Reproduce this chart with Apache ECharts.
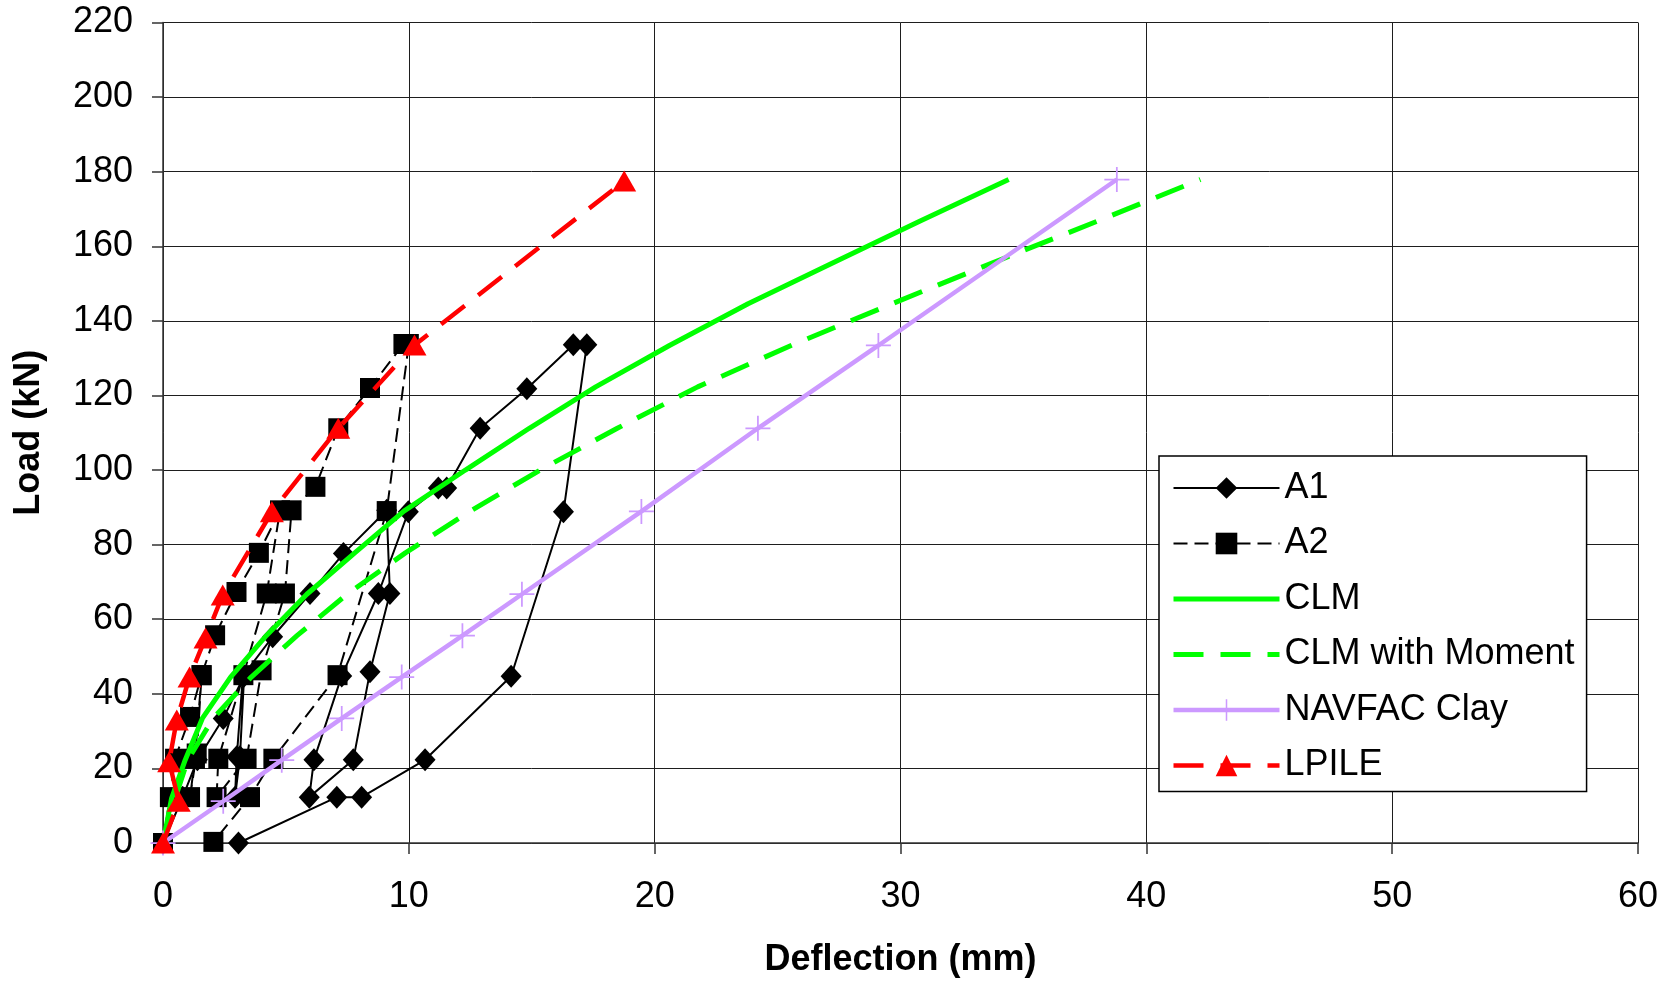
<!DOCTYPE html>
<html>
<head>
<meta charset="utf-8">
<script src="https://cdn.jsdelivr.net/npm/echarts@6/dist/echarts.min.js"></script>
<style>
html,body{margin:0;padding:0;background:#fff;}
#chart{width:1679px;height:982px;}
</style>
</head>
<body>
<div id="chart"></div>
<script>
// ---- data (deflection in mm, load in kN) ----
const xTicks = [0, 10, 20, 30, 40, 50, 60];
const yTicks = [0, 20, 40, 60, 80, 100, 120, 140, 160, 180, 200, 220];

const a1Defl = [0, 0.8, 1.4, 2.45, 3.3, 3.13, 2.93, 3.0, 3.25, 4.46, 5.98, 7.34, 9.1, 9.23, 8.42, 7.74, 5.95, 6.14, 7.27, 8.76, 9.98, 11.2, 11.54, 12.9, 14.8, 16.69, 17.24, 16.29, 14.16, 10.66, 8.08, 7.07, 3.07];
const a1Load = [0, 12.3, 22.3, 33.4, 44.8, 23.1, 12.3, 23.1, 44.8, 55.3, 66.9, 77.6, 89.2, 66.9, 45.9, 22.3, 12.3, 22.3, 44.8, 66.9, 88.8, 95.2, 95.2, 111.2, 121.8, 133.6, 133.6, 88.8, 44.7, 22.3, 12.3, 12.3, 0];

const a2Defl = [0, 0.28, 0.49, 1.1, 1.57, 1.3, 1.1, 1.37, 1.57, 2.12, 2.99, 3.9, 4.76, 4.22, 3.27, 2.25, 2.18, 3.4, 4.01, 4.96, 5.23, 6.2, 7.13, 8.42, 9.78, 10.0, 9.1, 7.1, 4.49, 3.54, 2.05];
const a2Load = [0, 12.3, 22.6, 33.8, 45, 22.6, 12.3, 24, 45, 55.7, 67.3, 77.8, 89.2, 66.9, 45, 22.6, 12.3, 22.6, 46.3, 66.9, 89.2, 95.5, 111.2, 122, 133.8, 133.8, 89, 45, 22.6, 12.3, 0.3];

const clmDefl = [0, 0.35, 0.9, 1.6, 2.75, 4.2, 5.85, 7.8, 9.8, 12.3, 14.9, 17.6, 20.6, 23.8, 27.3, 30.8, 34.4];
const clmLoad = [0, 12, 22.2, 33.4, 44.5, 55.6, 66.7, 77.8, 89, 100, 111.2, 122.3, 133.4, 144.6, 155.7, 166.8, 177.9];

const clmmDefl = [0, 0.45, 1.0, 2.04, 3.59, 5.45, 7.49, 9.86, 12.5, 15.34, 18.48, 21.75, 25.55, 29.66, 33.8, 38.03, 42.2];
const clmmLoad = [0, 11.1, 22.2, 33.4, 44.5, 55.6, 66.7, 77.8, 89, 100, 111.2, 122.3, 133.4, 144.6, 155.7, 166.8, 177.9];

const navDefl = [0, 2.45, 4.83, 7.27, 9.71, 12.18, 14.6, 19.46, 24.2, 29.1, 38.8];
const navLoad = [0, 11.2, 22.2, 33.4, 44.5, 55.6, 66.7, 88.9, 111.2, 133.4, 177.9];

const lpDefl = [0, 0.64, 0.25, 0.56, 1.08, 1.73, 2.43, 4.43, 7.13, 10.23, 18.76];
const lpLoad = [0, 11.2, 21.8, 33.0, 44.5, 55.0, 66.5, 88.8, 111.2, 133.5, 177.5];

const seriesNames = ['A1', 'A2', 'CLM', 'CLM with Moment', 'NAVFAC Clay', 'LPILE'];

// ---- helpers ----
function pairs(xs, ys) { return xs.map((x, i) => [x, ys[i]]); }
const FONT = "'Liberation Sans', Arial, sans-serif";
const PLUS = 'path://M-0.07,-1 L0.07,-1 L0.07,-0.07 L1,-0.07 L1,0.07 L0.07,0.07 L0.07,1 L-0.07,1 L-0.07,0.07 L-1,0.07 L-1,-0.07 L-0.07,-0.07 Z';
const GRID = '#1e1e1e';

const chart = echarts.init(document.getElementById('chart'), null, {renderer: 'canvas'});
chart.setOption({
  animation: false,
  backgroundColor: '#fff',
  grid: {left: 163, right: 41, top: 22.5, bottom: 139, containLabel: false, outerBoundsMode: 'none'},
  xAxis: {
    type: 'value', min: xTicks[0], max: xTicks[xTicks.length - 1], interval: 10,
    name: 'Deflection (mm)', nameLocation: 'middle', nameGap: 99,
    nameTextStyle: {fontFamily: FONT, fontSize: 36, fontWeight: 'bold', color: '#000'},
    axisLine: {show: true, onZero: false, lineStyle: {color: '#333', width: 1.5}},
    axisTick: {show: true, inside: false, length: 11, lineStyle: {color: '#333', width: 1.5}},
    axisLabel: {fontFamily: FONT, fontSize: 36, color: '#000', margin: 36},
    splitLine: {show: true, lineStyle: {color: GRID, width: 1}}
  },
  yAxis: {
    type: 'value', min: yTicks[0], max: yTicks[yTicks.length - 1], interval: 20,
    name: 'Load (kN)', nameLocation: 'middle', nameGap: 116, nameRotate: 90,
    nameTextStyle: {fontFamily: FONT, fontSize: 36, fontWeight: 'bold', color: '#000'},
    axisLine: {show: true, onZero: false, lineStyle: {color: '#333', width: 1.5}},
    axisTick: {show: true, inside: false, length: 11, lineStyle: {color: '#333', width: 1.5}},
    axisLabel: {fontFamily: FONT, fontSize: 36, color: '#000', margin: 30},
    splitLine: {show: true, lineStyle: {color: GRID, width: 1}}
  },
  legend: {
    show: true, orient: 'vertical', left: 1159, top: 456,
    itemWidth: 106, itemHeight: 27, itemGap: 19.5,
    padding: [14, 12, 8, 12],
    borderColor: '#000', borderWidth: 1.5, backgroundColor: '#fff', borderRadius: 0,
    textStyle: {fontFamily: FONT, fontSize: 36, color: '#000'},
    lineStyle: {width: 'inherit', type: 'inherit'},
    selectedMode: false,
    data: [
      {name: seriesNames[0]},
      {name: seriesNames[1]},
      {name: seriesNames[2], itemStyle: {color: 'rgba(0,0,0,0)', borderWidth: 0, opacity: 0}},
      {name: seriesNames[3], itemStyle: {color: 'rgba(0,0,0,0)', borderWidth: 0, opacity: 0}},
      {name: seriesNames[4]},
      {name: seriesNames[5]}
    ]
  },
  series: [
    {
      name: seriesNames[0], type: 'line', z: 2, data: pairs(a1Defl, a1Load),
      symbol: 'diamond', symbolSize: [21, 23], showSymbol: true,
      itemStyle: {color: '#000'}, lineStyle: {color: '#000', width: 2}
    },
    {
      name: seriesNames[1], type: 'line', z: 3, data: pairs(a2Defl, a2Load),
      symbol: 'rect', symbolSize: 20, showSymbol: true,
      itemStyle: {color: '#000'}, lineStyle: {color: '#000', width: 2, type: [14, 7]}
    },
    {
      name: seriesNames[2], type: 'line', z: 4, data: pairs(clmDefl, clmLoad),
      symbol: 'none',
      itemStyle: {color: '#00ff00'}, lineStyle: {color: '#00ff00', width: 5}
    },
    {
      name: seriesNames[3], type: 'line', z: 5, data: pairs(clmmDefl, clmmLoad),
      symbol: 'none',
      itemStyle: {color: '#00ff00'}, lineStyle: {color: '#00ff00', width: 5, type: [30, 17]}
    },
    {
      name: seriesNames[4], type: 'line', z: 6, data: pairs(navDefl, navLoad),
      symbol: PLUS, symbolSize: 25, showSymbol: true,
      itemStyle: {color: '#cc99ff'}, lineStyle: {color: '#cc99ff', width: 4.5}
    },
    {
      name: seriesNames[5], type: 'line', z: 7, data: pairs(lpDefl, lpLoad),
      symbol: 'triangle', symbolSize: [24, 21], showSymbol: true,
      itemStyle: {color: '#ff0000'}, lineStyle: {color: '#ff0000', width: 4.5, type: [30, 17]}
    }
  ]
});
</script>
</body>
</html>
